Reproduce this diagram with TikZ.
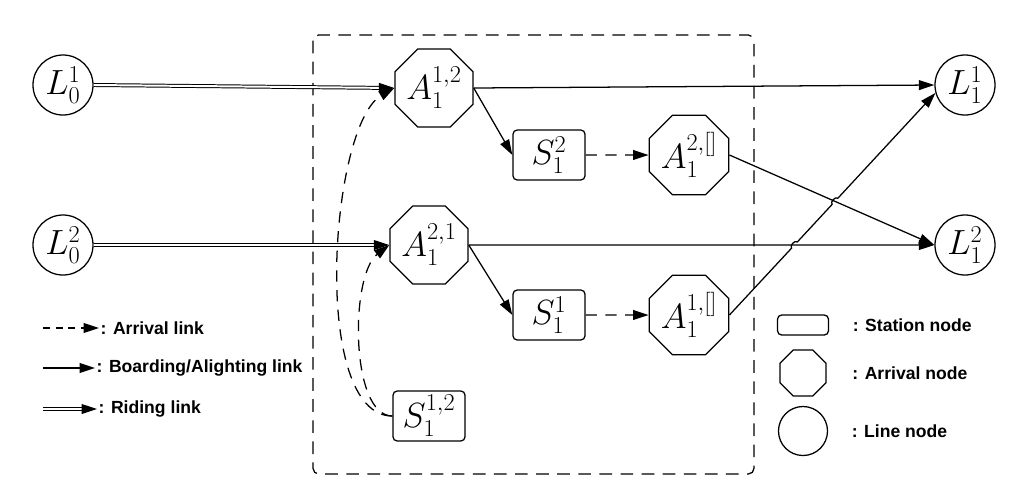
\documentclass[tikz,border=0pt]{standalone}
\usepackage{fontspec}
\setmainfont{Liberation Sans}
\usepackage{amsmath}
\usetikzlibrary{shapes.geometric, arrows.meta, positioning, calc}
\tikzset{
  linenode/.style={
    circle, draw, line width=0.9pt,
    minimum size=1.5cm, inner sep=0pt,
    font=\fontsize{23}{27}\selectfont
  },
  arrivalnode/.style={
    regular polygon, regular polygon sides=8, draw, line width=0.9pt,
    minimum size=1.95cm, inner sep=0pt,
    font=\fontsize{23}{27}\selectfont
  },
  stationnode/.style={
    rectangle, rounded corners=3pt, draw, line width=0.9pt,
    minimum width=1.8cm, minimum height=1.25cm, inner sep=0pt,
    font=\fontsize{23}{27}\selectfont
  },
  legendtext/.style={font=\fontsize{12.5}{15}\selectfont\bfseries, inner sep=1pt},
  board/.style={line width=0.9pt, -{Triangle[length=11pt,width=7pt]}},
  arrive/.style={board, dash pattern=on 8pt off 6pt},
  ride/.style={double, double distance=1.4pt, line width=0.7pt, -{Triangle[length=11pt,width=7pt]}},
  frame/.style={line width=0.9pt, dash pattern=on 9pt off 6pt, rounded corners=4pt},
}

\begin{document}
\begin{tikzpicture}[x=0.025cm, y=-0.025cm]
  \useasboundingbox (0,0) rectangle (1027,496);

  % transfer station frame
  \draw [frame] (313,35) rectangle (754,474);

  % line nodes
  \node (L01) [linenode] at (63,85)  {$L_0^1$};
  \node (L02) [linenode] at (63,245) {$L_0^2$};
  \node (L11) [linenode] at (965,85)  {$L_1^1$};
  \node (L12) [linenode] at (965,245) {$L_1^2$};

  % arrival and station nodes
  \node (A12)  [arrivalnode] at (434,88)  {$A_1^{1,2}$};
  \node (S12)  [stationnode] at (549,155) {$S_1^2$};
  \node (A2x)  [arrivalnode] at (689,155) {$A_1^{2,[]}$};
  \node (A21)  [arrivalnode] at (429,245) {$A_1^{2,1}$};
  \node (S11)  [stationnode] at (549,315) {$S_1^1$};
  \node (A1x)  [arrivalnode] at (689,315) {$A_1^{1,[]}$};
  \node (S112) [stationnode] at (429,416) {$S_1^{1,2}$};

  \draw [ride]  (L01.east) -- (A12.west);
  \draw [ride]  (L02.east) -- (A21.west);
  \draw [board] (A12.east) -- (L11.west);
  \draw [board] (A12.east) -- (S12.west);
  \draw [arrive] (S12.east) -- (A2x.west);
  \draw [board] (A2x.east) -- (L12.west);
  \draw [board] (A21.east) -- (L12.west);
  \draw [board] (A21.east) -- (S11.west);
  \draw [arrive] (S11.east) -- (A1x.west);
  \draw [arrive] (S112.west) .. controls (310,416) and (330,125) .. (A12.west);
  \draw [arrive] (S112.west) .. controls (350,416) and (350,275) .. (A21.west);

  % line hops over the crossings
  \coordinate (X1) at (intersection of A1x.east--L11.195 and A21.east--L12.west);
  \coordinate (X2) at (intersection of A1x.east--L11.195 and A2x.east--L12.west);
  \draw [board] (A1x.east) -- ($(X1)!3pt!(A1x.east)$) to[bend left=90] ($(X1)!3pt!(L11.195)$)
    -- ($(X2)!3pt!(A1x.east)$) to[bend left=90] ($(X2)!3pt!(L11.195)$) -- (L11.195);

  % legend
  \coordinate (legarr0) at (43,328);
  \coordinate (legbrd0) at (43,368);
  \coordinate (legrid0) at (43,409);
  \node (legarr) [legendtext, anchor=west] at (99,328) {: Arrival link};
  \node (legbrd) [legendtext, anchor=west] at (95,368) {: Boarding/Alighting link};
  \node (legrid) [legendtext, anchor=west] at (97,409) {: Riding link};
  \draw [arrive, dash pattern=on 5pt off 4pt] (legarr0) -- (legarr.west);
  \draw [board] (legbrd0) -- (legbrd.west);
  \draw [ride]  (legrid0) -- (legrid.west);

  \node (legst) [stationnode, minimum width=1.275cm, minimum height=0.5cm] at (803,325) {};
  \node (legar) [arrivalnode, minimum size=1.25cm] at (803,373) {};
  \node (legln) [linenode, minimum size=1.225cm] at (803,431) {};
  \node [legendtext, right=0.55cm of legst] {: Station node};
  \node [legendtext, right=0.6cm of legar]  {: Arrival node};
  \node [legendtext, right=0.55cm of legln] {: Line node};
\end{tikzpicture}
\end{document}
